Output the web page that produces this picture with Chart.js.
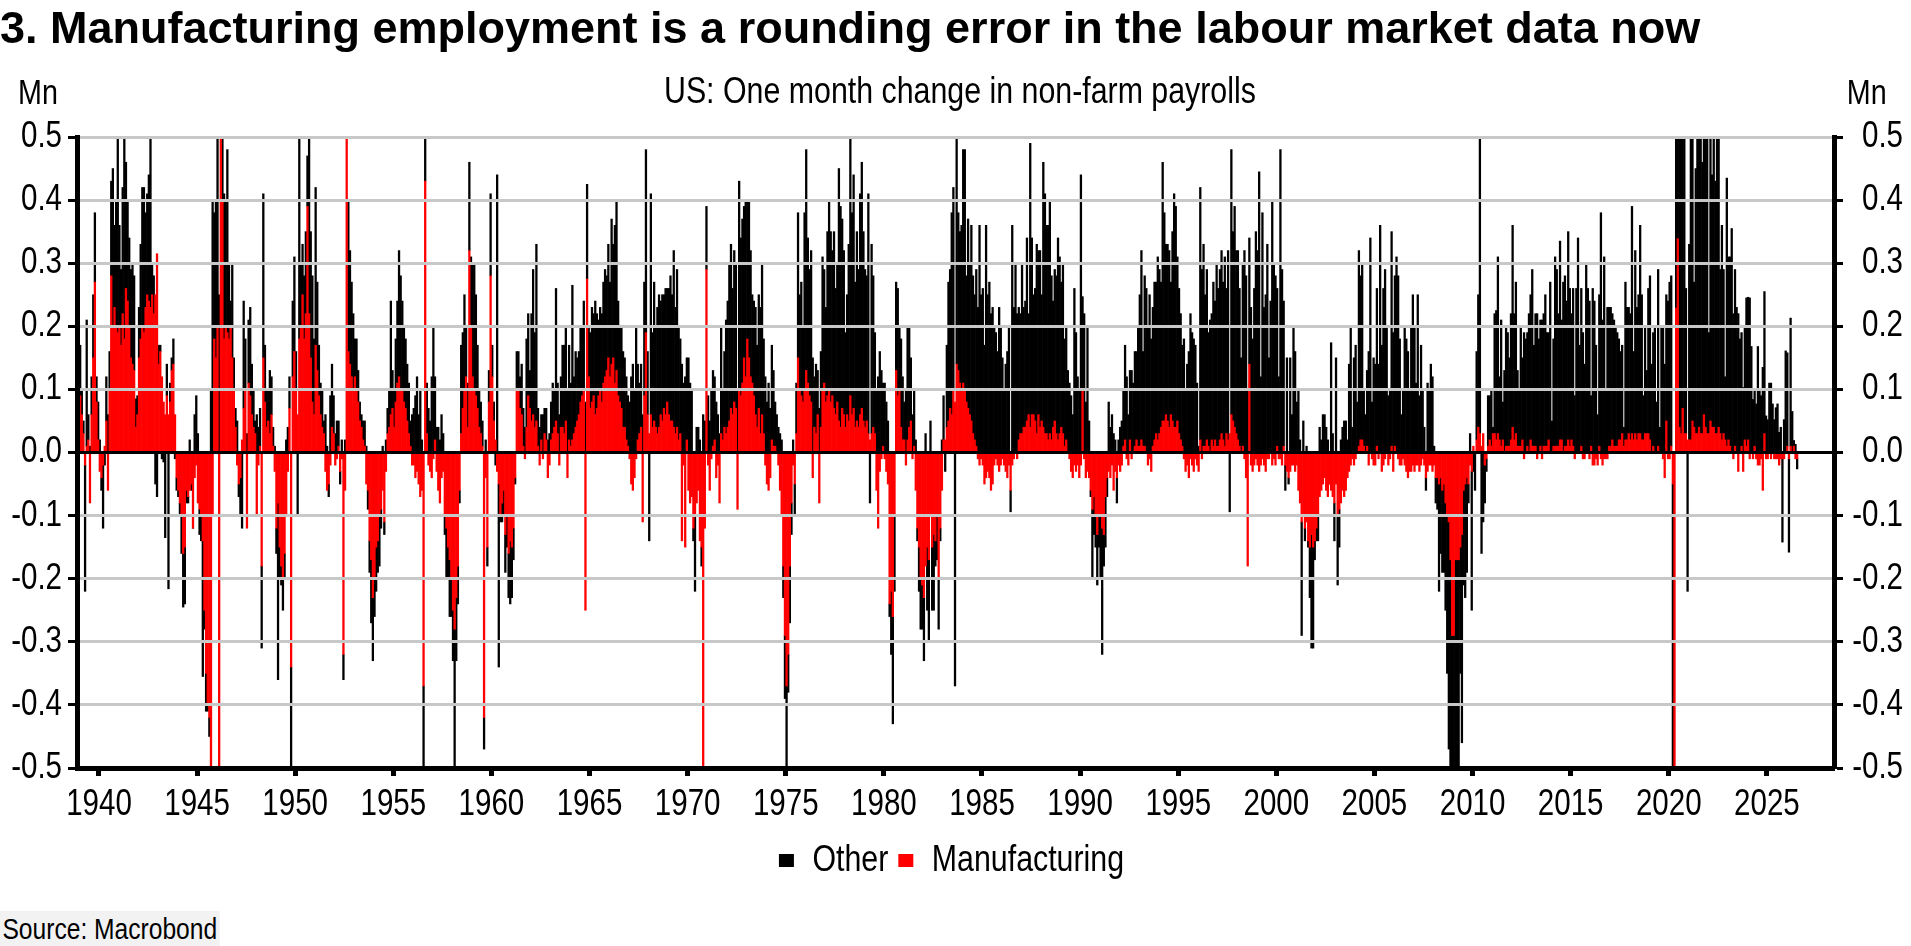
<!DOCTYPE html>
<html>
<head>
<meta charset="utf-8">
<script src="https://cdn.jsdelivr.net/npm/chart.js@4.4.1/dist/chart.umd.min.js"></script>
<style>
html,body{margin:0;padding:0;background:#fff;}
#wrap{position:relative;width:1911px;height:946px;overflow:hidden;background:#fff;}
#c{position:absolute;left:0;top:0;}
.t{position:absolute;white-space:nowrap;line-height:1;color:#000;font-family:'Liberation Sans',Arial,sans-serif;}
.n{display:inline-block;transform:scaleX(0.82);}
#title{left:0;top:5px;font-weight:bold;font-size:45px;}
#mnL{left:18px;top:74px;font-size:35px;}
#mnL .n{transform-origin:left center;}
#mnR{right:24px;top:74px;font-size:35px;}
#mnR .n{transform-origin:right center;}
#sub{left:0;width:1920px;text-align:center;top:72px;font-size:37px;}
#sub .n{transform-origin:center center;}
#src{left:0;top:911px;font-size:30px;}
#src .n{transform-origin:left center;height:35px;line-height:35px;background:#f2f2f2;padding:0 3px;}
</style>
</head>
<body>
<div id="wrap">
  <canvas id="c" width="1911" height="946"></canvas>
  <div class="t" id="title">3. Manufacturing employment is a rounding error in the labour market data now</div>
  <div class="t" id="mnL"><span class="n">Mn</span></div>
  <div class="t" id="sub"><span class="n">US: One month change in non-farm payrolls</span></div>
  <div class="t" id="mnR"><span class="n">Mn</span></div>
  <div class="t" id="src"><span class="n">Source: Macrobond</span></div>
</div>
<script>
// Monthly changes, thousands of jobs, starting January 1939
const START_YEAR = 1939;
const tickYears = [1940,1945,1950,1955,1960,1965,1970,1975,1980,1985,1990,1995,2000,2005,2010,2015,2020,2025];

const mfg1930s = [90,60,30,-20,10,20,-80,60,150,270,80,20];
const oth1930s = [80,40,20,-200,200,40,10,60,100,110,40,60];

const mfg1940s = [
 -30,-40,-20,10,50,-60,100,280,200,230,200,190,
 200,170,220,180,260,240,200,150,140,130,40,60,
 150,180,200,190,230,250,240,230,250,220,250,315,
 140,160,120,80,60,90,60,80,130,140,60,-40,
 -60,-80,-100,-160,-150,-60,-70,-60,-50,-120,-40,-20,
 -80,-90,-100,-140,-250,-350,-400,-420,-1500,-100,180,150,
 200,-800,700,400,180,200,190,180,200,150,100,40,
 -20,-50,-40,20,70,100,-120,110,90,60,40,30,
 -100,-20,10,-180,150,80,40,50,30,60,10,-30,
 -120,-80,-150,-180,-200,-160,-100,-30,70,-340,120,160];
const oth1940s = [
 20,-20,-100,-20,70,60,60,150,250,130,200,320,
 160,120,200,320,200,160,140,140,160,150,45,30,
 80,150,220,230,150,160,200,270,50,60,-50,-70,
 30,10,-10,-15,-135,50,-216,30,20,40,-10,-20,
 -10,-20,-60,-85,-90,-20,-10,20,-10,0,60,90,
 30,-40,-40,-215,-30,-60,-10,-30,100,400,200,250,
 350,250,100,150,230,200,290,120,40,150,50,30,
 50,-20,-60,-120,170,80,30,100,140,80,60,20,
 60,40,60,-130,260,90,60,50,100,60,30,10,
 -40,-280,-50,-30,-50,-40,20,40,50,-300,120,150];

const mfg1950s = [
 100,60,180,200,250,180,220,390,220,150,80,60,
 170,130,90,60,40,30,-30,-60,-50,-20,40,30,
 -20,-10,10,-30,-10,-320,-60,600,160,140,120,100,
 120,100,80,50,40,20,10,-50,-60,-140,-170,-230,
 -200,-150,-140,-100,-90,-60,-110,-30,30,40,60,70,
 40,80,110,120,100,100,80,70,50,30,10,-20,
 -20,-40,-30,-50,-70,-60,-370,430,30,-20,-30,-40,
 -10,20,-30,-60,-80,-40,-30,-100,-120,-150,-170,-200,
 -250,-280,-230,-180,-60,30,70,100,120,40,320,200,
 120,100,90,70,40,30,10,-420,-40,-150,80,280];
const oth1950s = [
 60,-100,320,100,80,100,130,80,280,200,200,120,
 250,140,80,50,60,20,60,10,-20,90,100,60,
 30,50,40,-20,20,-40,20,0,240,180,150,120,
 60,80,50,30,20,30,40,10,-30,-50,-100,-100,
 -60,-70,-50,-80,-30,10,-20,20,40,60,180,60,
 60,100,130,200,180,140,120,110,90,80,40,60,
 70,90,120,60,100,20,-180,100,80,70,50,120,
 200,100,40,40,20,60,30,-30,-80,-50,-90,-60,
 -80,-330,-100,-60,-20,140,120,150,80,70,140,110,
 180,200,160,100,60,50,40,-50,20,-30,50,130];

const mfg1960s = [
 120,50,20,-30,-50,-100,-80,-60,-130,-100,-160,-140,
 -150,-120,-40,100,100,70,60,10,-10,40,90,70,
 50,60,40,50,10,-20,20,-10,30,20,-40,-20,
 20,30,40,50,30,-20,40,40,30,50,-40,20,
 10,20,30,40,50,60,80,90,100,-250,275,120,
 70,80,90,60,70,90,100,80,110,120,130,150,
 120,140,150,110,130,90,80,70,40,40,20,10,
 -10,-50,-60,-40,-10,20,30,40,-110,90,190,60,
 30,60,40,50,40,30,40,60,50,70,60,80,
 60,50,50,40,30,40,20,30,-140,-20,-150,20];
const oth1960s = [
 50,30,-20,440,-290,-10,-30,-40,-60,-50,-70,-100,
 -80,-50,-10,60,60,50,80,60,40,140,130,60,
 170,230,150,280,60,40,40,60,40,50,20,30,
 60,80,60,210,80,60,80,130,140,150,100,150,
 100,245,90,120,100,100,120,110,140,80,150,80,
 120,150,130,180,150,120,130,140,160,170,150,180,
 150,230,180,250,270,150,120,130,120,110,100,80,
 80,120,140,100,200,120,80,100,60,180,290,100,
 -140,350,150,220,160,200,210,180,200,180,200,180,
 200,230,200,280,200,250,180,150,140,110,120,130];

const mfg1970s = [
 -60,-80,-70,-120,-100,-80,-60,-140,-150,-550,-120,290,
 -20,-60,-10,10,20,-40,-20,-80,30,20,40,30,
 40,50,70,60,80,70,-90,100,90,110,150,120,
 180,150,120,110,90,60,40,70,30,60,30,-20,
 -50,-60,-40,20,10,10,0,-20,-60,-100,-180,-290,
 -370,-320,-180,-80,-20,-50,30,150,100,90,80,100,
 130,110,90,80,-40,40,30,60,-80,40,100,110,
 80,90,100,80,90,70,60,80,50,40,70,60,
 40,60,50,90,60,70,40,50,40,60,70,50,
 40,50,30,20,30,40,30,-60,-120,-30,-10,10];
const oth1970s = [
 150,110,100,-20,-120,40,40,20,-30,60,50,100,
 90,50,100,120,100,80,60,30,170,80,120,180,
 200,250,260,200,240,230,100,330,250,260,240,280,
 220,250,200,140,150,170,130,180,200,240,150,120,
 80,110,70,150,120,70,60,40,30,20,-50,-100,
 -230,-60,-90,-50,20,-50,80,230,150,180,120,280,
 350,230,200,240,150,80,110,70,70,120,210,180,
 150,260,300,270,230,280,200,220,400,350,300,260,
 150,190,280,500,320,370,230,300,250,350,390,300,
 250,230,380,-80,300,240,160,100,120,160,130,100];

const mfg1980s = [
 -10,-30,-50,-240,-220,-260,-100,130,90,100,40,20,
 20,-20,20,40,50,-10,10,-60,-120,-150,-200,-210,
 -230,-180,-150,-170,-100,-150,-130,-140,-100,-200,-120,-60,
 20,20,40,50,70,60,100,80,140,130,110,100,
 110,100,80,70,60,50,30,20,10,-10,-20,-10,
 -20,-50,-40,-30,-40,-60,-50,-20,-10,-20,-30,-20,
 -10,-20,-30,-40,-20,-60,-20,-10,0,-10,20,30,
 30,40,40,50,60,40,60,60,50,30,60,40,
 50,40,30,30,20,30,20,40,50,30,20,30,
 40,30,10,20,0,-10,-30,-40,-20,-30,-20,-40];
const oth1980s = [
 110,80,50,-20,-100,-170,-120,140,170,100,140,100,
 60,100,180,160,100,60,90,20,-20,-70,-80,-70,
 -100,30,-100,-130,50,-100,-120,-40,-70,-80,-20,20,
 70,-30,130,220,220,320,320,-370,480,250,240,260,
 370,380,200,300,240,310,250,230,280,230,360,250,
 260,170,360,250,270,220,230,200,190,160,230,200,
 150,100,140,160,200,-34,360,230,300,220,210,190,
 270,190,200,290,160,450,280,190,210,300,260,280,
 200,420,380,330,340,370,260,200,240,250,320,280,
 230,270,170,180,130,110,90,60,260,190,120,100];

const mfg1990s = [
 -20,97,-10,-40,-30,-40,-60,-90,-70,-100,-130,-100,
 -100,-120,-130,-70,-40,-30,-40,-20,-60,-30,-40,-20,
 -30,-20,10,20,-10,-20,20,-10,0,10,20,10,
 10,20,10,10,0,-20,-10,-30,10,20,30,20,
 30,40,50,50,60,50,40,60,50,40,40,50,
 30,20,10,-10,-30,-20,-40,-10,-20,-30,-10,-20,
 -30,20,-10,10,10,20,10,0,20,10,20,10,
 10,20,30,20,10,30,20,30,60,50,40,30,
 20,10,0,10,-10,-40,-180,140,-20,-30,-20,-10,
 -20,-30,-20,-10,-20,-30,-10,-10,0,-20,-10,-20];
const oth1990s = [
 440,150,220,80,200,50,-10,-110,-60,-50,-80,-50,
 -100,-200,-50,-80,-30,80,40,60,30,20,-40,20,
 40,50,90,150,120,60,110,130,110,150,140,190,
 240,300,150,270,260,200,250,180,220,250,240,290,
 260,230,410,330,270,280,280,210,300,370,350,260,
 230,200,160,180,100,140,160,220,190,180,170,110,
 10,400,290,320,240,270,180,210,200,260,220,290,
 250,270,290,250,300,230,300,-94,420,300,350,290,
 300,250,150,290,320,280,100,200,230,180,260,350,
 320,445,120,380,230,250,330,150,240,400,300,280];

const mfg2000s = [
 10,-10,-10,-20,10,-20,-30,-40,-30,-20,-20,-30,
 -20,-60,-80,-110,-100,-120,-110,-140,-150,-130,-150,-140,
 -120,-100,-70,-60,-50,-40,-60,-70,-50,-60,-70,-80,
 -50,-100,-90,-80,-60,-70,-60,-40,-30,-20,-10,-20,
 -10,0,10,20,20,10,0,10,-20,0,-10,-20,
 -20,10,-10,0,-30,-20,-10,0,-20,-10,10,-30,
 10,0,-10,-20,-20,-10,-20,-30,-40,-30,-30,-20,
 -30,-20,-20,-30,-20,-10,-20,-40,-30,-20,-20,-30,
 -20,-40,-40,-50,-40,-60,-50,-80,-100,-110,-170,-290,
 -290,-170,-170,-170,-150,-130,-60,-50,-40,-50,-20,-30];
const oth2000s = [
 250,120,480,290,230,-40,150,-10,150,60,200,160,
 80,100,20,-180,50,-20,10,-10,-80,-180,-160,-30,
 -20,-40,40,20,60,60,40,20,0,174,30,-60,
 150,-110,-60,20,40,50,50,20,140,200,40,150,
 170,80,310,260,280,90,60,120,160,340,80,150,
 140,250,140,360,170,260,290,200,90,100,340,190,
 270,310,280,180,60,100,200,180,160,100,200,250,
 200,110,250,90,170,100,40,-20,110,100,140,120,
 10,-40,-50,-170,-120,-130,-140,-170,-250,-360,-560,-410,
 -490,-550,-630,-520,-200,-330,-150,-180,-150,-30,30,-220];

const mfg2010s = [
 10,0,20,40,30,10,30,-20,-10,10,20,10,
 30,30,20,30,20,10,20,0,10,10,10,20,
 40,20,30,10,10,10,20,-10,0,10,0,20,
 10,10,10,-10,0,10,-10,10,10,10,20,0,
 0,10,10,10,10,20,20,0,10,10,20,10,
 20,10,-10,0,0,0,10,-10,-10,0,0,-10,
 10,-20,-20,-10,-20,10,-10,-20,-10,-10,-10,10,
 10,20,10,10,10,20,20,30,10,20,20,30,
 20,30,20,30,20,30,30,20,20,30,30,30,
 20,0,10,0,0,10,0,0,-10,-40,50,-10];
const oth2010s = [
 -30,-60,140,210,520,-160,-110,-60,-20,80,70,90,
 10,190,205,280,100,200,60,130,190,180,140,200,
 320,200,240,120,90,190,130,190,180,180,220,230,
 280,160,210,220,180,200,210,210,240,180,170,270,
 50,170,300,280,210,315,190,270,270,230,330,250,
 200,250,90,260,340,170,250,190,140,300,260,240,
 80,260,240,170,60,240,380,210,310,100,230,220,
 220,200,200,190,180,160,140,140,30,250,210,200,
 200,360,140,290,210,220,330,230,70,170,100,230,
 260,140,180,200,80,280,40,200,200,140,200,240];

const mfg2020s = [
 -10,10,-50,-1330,229,339,40,30,70,30,30,20,
 20,20,50,40,30,30,40,30,30,60,40,30,
 30,50,40,40,30,30,40,30,20,30,20,10,
 20,10,0,-10,10,0,-30,0,10,-30,20,10,
 20,-10,0,-10,10,-10,-20,-20,-10,-60,30,-10,
 -10,0,-10,0,-10,-10,-10,-20,-10,-10,-10,0,
 10,-10,10,0,10,-10,-10];
const oth2020s = [
 270,270,-1400,-19200,2600,4400,1700,1500,650,650,230,-220,
 310,600,650,230,420,900,1000,480,430,640,600,560,
 160,600,400,500,400,500,520,260,340,260,100,425,
 290,300,355,220,280,230,220,180,180,103,180,235,
 226,245,168,84,87,77,168,97,90,135,225,58,
 52,110,110,77,52,71,77,32,40,-132,52,161,
 148,-148,203,65,9,13,-16];

const mfgAll = [].concat(mfg1930s, mfg1940s, mfg1950s, mfg1960s, mfg1970s, mfg1980s, mfg1990s, mfg2000s, mfg2010s, mfg2020s);
const othAll = [].concat(oth1930s, oth1940s, oth1950s, oth1960s, oth1970s, oth1980s, oth1990s, oth2000s, oth2010s, oth2020s);

const toPoints = arr => arr.map((v, i) => ({ x: START_YEAR + (i + 0.5) / 12, y: v / 1000 }));

const FAMILY = "'Liberation Sans', Arial, sans-serif";
const SX = 0.82; // horizontal condensing to mimic a narrow face
const fmt = v => (Math.abs(v) < 1e-9 ? 0 : v).toFixed(1);

function condense(ctx) {
  const P = CanvasRenderingContext2D.prototype;
  ctx.fillText = function (t, x, y) {
    this.save();
    this.translate(x, y);
    this.scale(SX, 1);
    P.fillText.call(this, t, 0, 0);
    this.restore();
  };
  ctx.measureText = function (t) {
    const m = P.measureText.call(this, t);
    return {
      width: m.width * SX,
      actualBoundingBoxLeft: m.actualBoundingBoxLeft * SX,
      actualBoundingBoxRight: m.actualBoundingBoxRight * SX,
      actualBoundingBoxAscent: m.actualBoundingBoxAscent,
      actualBoundingBoxDescent: m.actualBoundingBoxDescent,
      fontBoundingBoxAscent: m.fontBoundingBoxAscent,
      fontBoundingBoxDescent: m.fontBoundingBoxDescent
    };
  };
}

function draw() {
  Chart.defaults.font.family = FAMILY;
  Chart.defaults.color = '#000';
  const canvas = document.getElementById('c');
  condense(canvas.getContext('2d'));
  new Chart(canvas, {
    type: 'bar',
    data: {
      datasets: [
        { label: 'Manufacturing', data: toPoints(mfgAll), backgroundColor: '#ff0000', borderWidth: 0,
          barPercentage: 1, categoryPercentage: 1 },
        { label: 'Other', data: toPoints(othAll), backgroundColor: '#000000', borderWidth: 0,
          barPercentage: 1, categoryPercentage: 1 }
      ]
    },
    options: {
      responsive: false,
      animation: false,
      devicePixelRatio: 1,
      layout: { padding: { top: 137, right: 8, bottom: 57, left: 0 } },
      scales: {
        x: {
          type: 'linear', min: 1938.88, max: 2028.42, offset: false, stacked: true,
          afterBuildTicks: s => { s.ticks = tickYears.map(v => ({ value: v })); },
          afterFit: s => { s.height = 64; },
          ticks: { callback: v => String(v), font: { size: 36 }, color: '#000', padding: 7, autoSkip: false, maxRotation: 0 },
          grid: { drawOnChartArea: false, offset: false, tickColor: '#000', tickLength: 8, tickWidth: 5 },
          border: { color: '#000', width: 5, z: 3 }
        },
        y: {
          position: 'left', min: -0.5, max: 0.5, stacked: true,
          afterFit: s => { s.width = 77; },
          ticks: { stepSize: 0.1, callback: fmt, font: { size: 36 }, color: '#000', padding: 6 },
          grid: {
            color: c => (c.tick && Math.abs(c.tick.value) < 1e-9) ? '#000000' : '#c8c8c8',
            lineWidth: 3, tickColor: '#000', tickLength: 9, tickWidth: 3, z: 1
          },
          border: { color: '#000', width: 5, z: 3 }
        },
        y2: {
          position: 'right', min: -0.5, max: 0.5,
          afterFit: s => { s.width = 69; },
          ticks: { stepSize: 0.1, callback: fmt, font: { size: 36 }, color: '#000', padding: 6, crossAlign: 'far' },
          grid: { drawOnChartArea: false, tickColor: '#000', tickLength: 9, tickWidth: 3, z: 1 },
          border: { color: '#000', width: 5, z: 3 }
        }
      },
      plugins: {
        tooltip: { enabled: false },
        legend: {
          position: 'bottom', reverse: true,
          labels: { boxWidth: 15, boxHeight: 13, padding: 10, color: '#000', font: { size: 37 } }
        }
      }
    }
  });
}

if (document.fonts && document.fonts.load) {
  Promise.all([
    document.fonts.load("36px 'Liberation Sans'"),
    document.fonts.load("bold 45px 'Liberation Sans'")
  ]).then(draw, draw);
} else { draw(); }
</script>
</body>
</html>
